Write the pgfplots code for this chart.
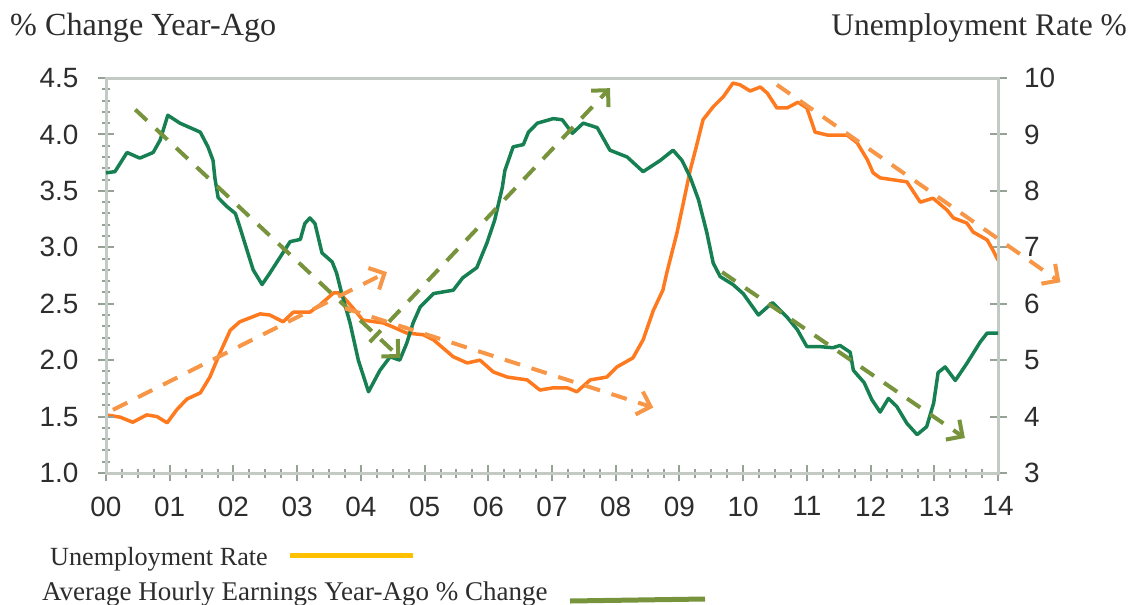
\documentclass[border=0pt]{standalone}
\usepackage{fontspec}
\setmainfont{Liberation Serif}
\newfontfamily\arial{Liberation Sans}
\usepackage{pgfplots}
\pgfplotsset{compat=1.18}
\usetikzlibrary{arrows.meta}
\definecolor{gline}{RGB}{22,128,82}
\definecolor{oline}{RGB}{255,122,30}
\definecolor{garrow}{RGB}{119,147,60}
\definecolor{oarrow}{RGB}{247,150,70}
\definecolor{axgray}{RGB}{195,202,195}
\definecolor{tickgray}{RGB}{150,162,150}
\definecolor{legy}{RGB}{255,192,0}
\definecolor{txt}{RGB}{45,45,45}

\pgfplotstableread{
x y
0.00 4.03
0.22 3.99
0.42 3.90
0.64 4.03
0.80 4.00
0.96 3.89
1.11 4.12
1.27 4.31
1.48 4.42
1.63 4.70
1.79 5.13
1.95 5.53
2.10 5.68
2.42 5.82
2.57 5.80
2.78 5.68
2.94 5.85
3.20 5.85
3.36 5.98
3.57 6.19
3.67 6.19
3.88 5.92
4.03 5.71
4.35 5.66
4.50 5.59
4.72 5.48
4.98 5.45
5.14 5.36
5.45 5.06
5.67 4.95
5.87 5.00
6.08 4.79
6.30 4.70
6.61 4.65
6.81 4.47
7.02 4.51
7.24 4.51
7.39 4.44
7.60 4.65
7.86 4.70
8.02 4.88
8.27 5.04
8.43 5.36
8.59 5.88
8.74 6.24
8.80 6.54
8.96 7.25
9.06 7.78
9.17 8.37
9.28 8.85
9.37 9.26
9.53 9.49
9.69 9.67
9.84 9.91
9.95 9.88
10.11 9.77
10.27 9.84
10.38 9.73
10.53 9.47
10.69 9.47
10.86 9.57
11.00 9.47
11.13 9.04
11.32 8.99
11.63 8.99
11.79 8.85
11.95 8.55
12.04 8.32
12.15 8.23
12.57 8.16
12.78 7.80
12.98 7.87
13.20 7.66
13.30 7.52
13.51 7.43
13.61 7.27
13.83 7.13
13.92 6.95
14.00 6.77
}\unemp

\pgfplotstableread{
x y
0.00 3.66
0.14 3.67
0.33 3.84
0.53 3.79
0.74 3.84
0.85 3.95
0.97 4.17
1.16 4.10
1.32 4.06
1.48 4.02
1.60 3.89
1.68 3.77
1.71 3.61
1.76 3.44
1.90 3.36
2.03 3.30
2.10 3.18
2.21 2.98
2.31 2.80
2.45 2.67
2.57 2.77
2.73 2.91
2.89 3.05
3.05 3.07
3.12 3.21
3.20 3.26
3.28 3.21
3.39 2.95
3.55 2.87
3.62 2.77
3.70 2.59
3.83 2.33
3.96 2.00
4.12 1.72
4.30 1.91
4.46 2.03
4.61 2.00
4.72 2.15
4.82 2.33
4.93 2.47
5.14 2.59
5.45 2.62
5.60 2.73
5.82 2.82
5.98 3.04
6.10 3.24
6.22 3.53
6.26 3.68
6.39 3.89
6.55 3.91
6.63 4.02
6.77 4.10
7.02 4.14
7.16 4.13
7.32 4.01
7.49 4.10
7.71 4.06
7.91 3.86
8.18 3.80
8.43 3.67
8.70 3.77
8.90 3.86
9.04 3.77
9.17 3.62
9.30 3.42
9.43 3.13
9.53 2.86
9.64 2.74
9.84 2.67
10.00 2.59
10.24 2.40
10.46 2.51
10.69 2.38
10.85 2.27
11.00 2.12
11.20 2.12
11.41 2.11
11.52 2.13
11.68 2.07
11.73 1.91
11.90 1.80
12.02 1.65
12.15 1.54
12.28 1.66
12.41 1.59
12.57 1.44
12.73 1.34
12.88 1.41
12.99 1.62
13.06 1.89
13.17 1.94
13.33 1.82
13.51 1.97
13.72 2.16
13.83 2.24
14.00 2.24
}\earn

\begin{document}
\begin{tikzpicture}
\useasboundingbox (0,0) rectangle (1129bp,-605bp);
\pgfplotsset{
  base/.style={
    at={(106bp,-473bp)}, anchor=south west,
    scale only axis, width=892bp, height=395bp,
    xmin=0, xmax=14,
    tick align=center,
    tick style={draw=tickgray, line width=2bp},
    ticklabel style={font=\arial\fontsize{28}{28}\selectfont, text=txt},
    /pgf/number format/assume math mode=true,
  }
}
% right axis: unemployment
\begin{axis}[base,
  ymin=3, ymax=10,
  axis y line*=right, axis x line=none,
  ytick={3,4,...,10},
  major tick length=17bp,
  y axis line style={draw=axgray, line width=3bp},
  yticklabel style={anchor=west, xshift=14bp},
]
\addplot[oline, line width=3.5bp, line join=round] table[x=x,y=y] {\unemp};
\end{axis}
% left axis: earnings
\begin{axis}[base,
  ymin=1, ymax=4.5,
  axis line style={draw=axgray, line width=3bp},
  xtick pos=lower, ytick pos=left,
  xtick={0,1,...,14},
  xticklabels={00,01,02,03,04,05,06,07,08,09,10,11,12,13,14},
  minor x tick num=3,
  ytick={1,1.5,...,4.5},
  minor y tick num=4,
  major tick length=16bp, minor tick length=9bp,
  yticklabel style={anchor=east, xshift=-16bp, /pgf/number format/.cd, fixed, fixed zerofill, precision=1},
  xticklabel style={yshift=-12bp},
  clip=false,
]
\addplot[gline, line width=3.5bp, line join=round] table[x=x,y=y] {\earn};
% trend arrows
\pgfplotsset{arr/.style={line width=4bp, dash pattern=on 16bp off 12bp, -{Straight Barb[length=12bp,width=24bp,line width=4bp]}}}
\addplot[garrow, arr] coordinates {(0.46,4.22) (4.62,2.02)};
\addplot[garrow, arr] coordinates {(4.14,2.16) (7.91,4.41)};
\addplot[garrow, arr] coordinates {(9.67,2.78) (13.48,1.31)};
\addplot[oarrow, arr] coordinates {(0.11,1.56) (4.41,2.78)};
\addplot[oarrow, arr] coordinates {(3.75,2.46) (8.59,1.58)};
\addplot[oarrow, arr] coordinates {(10.53,4.44) (14.98,2.69)};
\end{axis}
% titles
\node[anchor=base west, inner sep=0, text=txt, font=\fontsize{32.3}{32.3}\selectfont] at (10bp,-35bp) {\% Change Year-Ago};
\node[anchor=base east, inner sep=0, text=txt, font=\fontsize{31.6}{31.6}\selectfont] at (1127bp,-35bp) {Unemployment Rate \%};
% legend
\node[anchor=base west, inner sep=0, text=txt, font=\fontsize{26.3}{26.3}\selectfont] at (50bp,-565bp) {Unemployment Rate};
\draw[legy, line width=5bp] (290bp,-555bp) -- (413bp,-555bp);
\node[anchor=base west, inner sep=0, text=txt, font=\fontsize{27.1}{27.1}\selectfont] at (42bp,-600bp) {Average Hourly Earnings Year-Ago \% Change};
\draw[garrow, line width=5bp] (570bp,-601bp) -- (705bp,-599bp);
\end{tikzpicture}
\end{document}
